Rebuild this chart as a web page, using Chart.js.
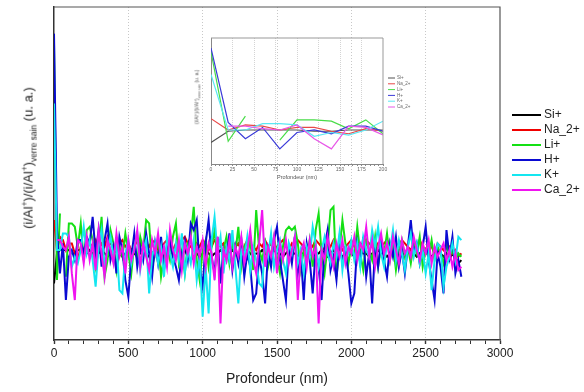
<!DOCTYPE html>
<html lang="fr">
<head>
<meta charset="utf-8">
<title>Profils ToF-SIMS</title>
<script src="https://cdn.jsdelivr.net/npm/chart.js@4/dist/chart.umd.min.js"></script>
<style>
  html, body { margin: 0; padding: 0; background: #fff; }
  #page { position: relative; width: 584px; height: 392px; overflow: hidden; font-family: "Liberation Sans", Arial, sans-serif; }
  #graf { position: absolute; left: 0; top: 0; }
  #encart { position: absolute; left: 180px; top: 25px; }
  .titreY { position: absolute; white-space: nowrap; color: #222; }
  .titreY sup, .titreY sub { font-size: 65%; }
  #titreY { left: 29px; top: 158px; font-size: 13px; transform: translate(-50%, -50%) rotate(-90deg); }
  #titreYenc { left: 197px; top: 97px; font-size: 10px; color: #555; transform: translate(-50%, -50%) rotate(-90deg) scale(0.5); }
</style>
</head>
<body>
<div id="page">
  <canvas id="graf" width="584" height="392"></canvas>
  <canvas id="encart" width="240" height="170"></canvas>
  <div class="titreY" id="titreY">(i/Al<sup>+</sup>)/(i/Al<sup>+</sup>)<sub>verre sain</sub> (u. a.)</div>
  <div class="titreY" id="titreYenc">(i/Al<sup>+</sup>)/(i/Al<sup>+</sup>)<sub>verre sain</sub> (u. a.)</div>
</div>
<script>
// profondeur (nm), pas de 20 nm
const profondeur = [
  0,20,40,60,80,100,120,140,160,180,200,220,240,260,280,300,320,340,360,380,
  400,420,440,460,480,500,520,540,560,580,600,620,640,660,680,700,720,740,760,780,
  800,820,840,860,880,900,920,940,960,980,1000,1020,1040,1060,1080,1100,1120,1140,1160,1180,
  1200,1220,1240,1260,1280,1300,1320,1340,1360,1380,1400,1420,1440,1460,1480,1500,1520,1540,1560,1580,
  1600,1620,1640,1660,1680,1700,1720,1740,1760,1780,1800,1820,1840,1860,1880,1900,1920,1940,1960,1980,
  2000,2020,2040,2060,2080,2100,2120,2140,2160,2180,2200,2220,2240,2260,2280,2300,2320,2340,2360,2380,
  2400,2420,2440,2460,2480,2500,2520,2540,2560,2580,2600,2620,2640,2660,2680,2700,2720,2740
];
const nomsIons = ['Si+', 'Na_2+', 'Li+', 'H+', 'K+', 'Ca_2+'];
const ticksX = [0, 500, 1000, 1500, 2000, 2500, 3000];
const ticksEncart = [0, 25, 50, 75, 100, 125, 150, 175, 200];

const si = [17,26,27,27,27,27,26,26,27,27,27,
  26,27,26,25,26,27,26,25,26,26, 27,26,25,26,27,26,26,25,26,27,
  26,25,26,27,26,26,25,26,27,26, 25,26,26,27,25,24,25,26,25,26,
  27,26,25,26,26,27,26,25,26,27, 26,26,25,26,27,26,25,26,26,27,
  26,25,26,27,26,26,25,26,27,26, 26,25,26,26,27,26,25,26,26,27,
  26,25,26,27,26,26,25,26,27,26, 25,26,27,26,26,25,26,26,27,26,
  26,25,26,27,26,25,26,26,27,26, 26,25,26,27,26,26,25,26,27,26,
  25,26,24,26,25,23,24];
const na = [36,27,31,30,27,29,29,26,24,28,26,
  28,29,28,30,27,29,28,31,29,28, 27,29,30,28,29,27,28,30,29,28,
  29,28,30,29,27,28,29,30,28,27, 29,28,30,31,29,28,27,29,28,30,
  29,27,28,30,29,28,29,27,28,30, 28,29,27,28,30,29,28,27,29,28,
  30,28,29,27,28,29,30,28,27,29, 28,30,29,28,27,29,28,30,29,28,
  27,29,28,30,28,29,27,28,29,30, 28,27,29,28,30,29,28,27,29,28,
  29,30,28,27,29,28,30,29,28,27, 29,28,30,28,27,29,28,26,29,28,
  27,29,28,26,27,25,26];
const li = [89,18,38,null,19,35,35,34,28,35,24,
  33,34,30,22,27,37,19,24,33,29, 21,28,25,32,26,20,29,24,31,27,
  36,35,22,26,30,19,25,28,24,31, 35,23,27,20,29,31,40,24,18,27,
  30,22,28,33,25,19,27,31,23,29, 26,34,22,28,25,30,21,39,27,24,
  29,22,26,31,25,20,28,33,34,33, 34,29,21,27,24,30,22,33,38,26,
  20,28,39,40,19,27,36,29,23,28, 25,34,26,21,30,27,24,31,22,28,
  26,32,24,29,21,27,30,25,28,23, 29,26,31,22,27,25,30,24,28,26,
  23,29,25,27,24,26,25];
const h = [92,33,20,29,12,25,27,24,30,30,26,
  31,29,37,26,33,22,30,35,24,28, 20,31,27,18,13,25,32,22,28,24,
  32,26,19,29,23,31,21,27,30,25, 22,18,26,30,24,35,33,36,22,16,
  29,36,25,20,31,17,27,24,32,21, 28,23,30,19,26,22,12,14,25,20,
  11,27,22,30,34,24,18,12,28,23, 31,20,26,12,29,24,14,27,22,12,
  28,33,21,25,18,30,23,27,20,11, 14,29,23,31,19,26,11,28,22,30,
  24,19,29,25,31,22,27,20,28,36, 26,29,23,28,34,24,18,12,26,22,
  14,33,25,31,20,24,19];
const k = [71,27,27,32,32,31,22,25,23,27,34,
  26,30,24,16,28,33,22,27,31,25, 29,15,14,26,30,23,28,32,21,27,
  30,14,25,29,23,28,19,31,26,22, 29,24,32,20,27,23,30,18,25,7,
  22,8,30,37,26,31,20,28,24,33, 22,11,27,25,31,21,28,24,17,16,
  29,25,32,22,27,30,24,20,29,26, 31,23,27,20,28,25,34,29,22,27,
  31,26,23,29,25,32,21,28,26,30, 24,29,22,31,27,25,33,28,34,26,
  22,29,27,33,24,30,26,21,28,32, 25,29,23,27,20,26,15,24,29,28,
  16,22,25,29,24,31,30];
const ca = [null,30,30,28,27,31,20,12,30,29,23,
  31,24,29,21,33,26,19,30,27,23, 32,25,28,20,30,24,27,33,22,29,
  25,21,30,26,32,24,28,22,33,27, 24,30,21,29,26,31,23,28,25,30,
  22,29,26,18,31,5,27,24,30,22, 28,25,31,23,27,33,24,20,29,39,
  22,28,25,31,20,29,24,30,23,27, 31,12,26,29,22,30,25,28,5,27,
  24,31,26,22,29,25,30,23,28,26, 31,24,29,27,34,25,30,22,28,32,
  26,29,24,31,27,23,30,26,28,25, 31,27,24,29,26,30,23,28,25,27,
  29,24,27,22,26,21,22];

const series = [si, na, li, h, k, ca];
const couleurs = ['#000000', '#f00000', '#14e014', '#0a0ad2', '#14e6f0', '#f014f0'];
const couleursEncart = ['#505050', '#e84848', '#48dc48', '#3a3ad8', '#5ae8f4', '#e858e8'];
const N_ENCART = 11; // 0 a 200 nm

const police = '"Liberation Sans", Arial, sans-serif';

// cadre haut + droite
const cadre = {
  id: 'cadre',
  afterDatasetsDraw(chart, args, o) {
    const { ctx, chartArea: a } = chart;
    ctx.save();
    ctx.strokeStyle = o.color;
    ctx.lineWidth = o.width;
    ctx.beginPath();
    ctx.moveTo(a.left, a.top);
    ctx.lineTo(a.right, a.top);
    ctx.lineTo(a.right, a.bottom);
    ctx.stroke();
    ctx.restore();
  }
};

// legende en lignes, a une position fixe
const legende = {
  id: 'legende',
  afterDraw(chart, args, o) {
    const ctx = chart.ctx;
    ctx.save();
    ctx.font = o.font;
    ctx.textBaseline = 'middle';
    chart.data.datasets.forEach((ds, i) => {
      const y = o.y + i * o.pas;
      ctx.strokeStyle = ds.borderColor;
      ctx.lineWidth = o.epaisseur;
      ctx.beginPath();
      ctx.moveTo(o.x, y);
      ctx.lineTo(o.x + o.long, y);
      ctx.stroke();
      ctx.fillStyle = o.color;
      ctx.fillText(ds.label, o.x + o.long + o.ecart, y);
    });
    ctx.restore();
  }
};

function jeux(n, cols, larg) {
  return series.map((s, i) => ({
    label: nomsIons[i],
    data: s.slice(0, n).map((v, j) => ({ x: profondeur[j], y: v })),
    borderColor: cols[i],
    backgroundColor: cols[i],
    borderWidth: larg,
    pointRadius: 0,
    tension: 0,
    spanGaps: false,
    order: series.length - 1 - i
  }));
}

// === GRAPHE PRINCIPAL ===
new Chart(document.getElementById('graf'), {
  type: 'line',
  data: { datasets: jeux(profondeur.length, couleurs, 2) },
  options: {
    responsive: false,
    animation: false,
    devicePixelRatio: 1,
    layout: { padding: { left: 0, right: 84, top: 7, bottom: 0 } },
    scales: {
      x: {
        type: 'linear', min: 0, max: 3000,
        afterFit: s => { s.height = 52; },
        ticks: {
          stepSize: 100, autoSkip: false, maxRotation: 0, padding: 2,
          color: '#222', font: { family: police, size: 12 },
          callback: v => ticksX.includes(v) ? String(v) : ''
        },
        grid: {
          drawOnChartArea: true,
          color: c => (c.tick && ticksX.includes(c.tick.value) && c.tick.value > 0 && c.tick.value < 3000) ? '#c8c8c8' : 'rgba(0,0,0,0)',
          tickColor: '#333',
          tickLength: 4,
          tickWidth: c => (c.tick && ticksX.includes(c.tick.value)) ? 1.4 : 1
        },
        border: { color: '#333', width: 1.5, dash: [1, 2] },
        title: {
          display: true, text: 'Profondeur (nm)', color: '#222',
          font: { family: police, size: 14 }, padding: { top: 0, bottom: 4 }
        }
      },
      y: {
        min: 0, max: 100,
        afterFit: s => { s.width = 54; },
        ticks: { display: false },
        grid: { display: false },
        border: { color: '#333', width: 1.5 }
      }
    },
    plugins: {
      legend: { display: false },
      tooltip: { enabled: false },
      cadre: { color: '#555', width: 1.2 },
      legende: { x: 512, y: 115, pas: 15, long: 29, ecart: 3, epaisseur: 2, font: '12px ' + police, color: '#222' }
    }
  },
  plugins: [cadre, legende]
});

// === ENCART 0-200 nm ===
new Chart(document.getElementById('encart'), {
  type: 'line',
  data: { datasets: jeux(N_ENCART, couleursEncart, 1.2) },
  options: {
    responsive: false,
    animation: false,
    devicePixelRatio: 1,
    layout: { padding: { left: 0, right: 37, top: 13, bottom: 0 } },
    scales: {
      x: {
        type: 'linear', min: 0, max: 200,
        afterFit: s => { s.height = 31; },
        ticks: {
          stepSize: 5, autoSkip: false, maxRotation: 0, padding: 1,
          color: '#666', font: { family: police, size: 5 },
          callback: v => ticksEncart.includes(v) ? String(v) : ''
        },
        grid: {
          color: c => (c.tick && ticksEncart.includes(c.tick.value) && c.tick.value > 0 && c.tick.value < 200) ? '#d4d4d4' : 'rgba(0,0,0,0)',
          tickColor: '#888',
          tickLength: 2
        },
        border: { color: '#888', width: 1, dash: [1, 1] },
        title: {
          display: true, text: 'Profondeur (nm)', color: '#555',
          font: { family: police, size: 5.5 }, padding: { top: 0, bottom: 14 }
        }
      },
      y: {
        min: 0, max: 100,
        afterFit: s => { s.width = 31; },
        ticks: { display: false },
        grid: { display: false },
        border: { color: '#888', width: 1 }
      }
    },
    plugins: {
      legend: { display: false },
      tooltip: { enabled: false },
      cadre: { color: '#999', width: 1 },
      legende: { x: 208, y: 53, pas: 5.8, long: 7, ecart: 2, epaisseur: 1, font: '4.5px ' + police, color: '#666' }
    }
  },
  plugins: [cadre, legende]
});
</script>
</body>
</html>
